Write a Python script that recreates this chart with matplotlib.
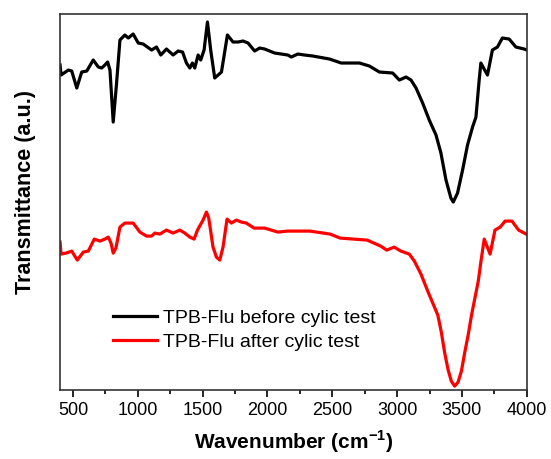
import matplotlib
matplotlib.use("Agg")
import matplotlib.pyplot as plt
from matplotlib.ticker import MultipleLocator

plt.rcParams['font.family'] = ['Liberation Sans', 'DejaVu Sans']
plt.rcParams['mathtext.fontset'] = 'custom'
plt.rcParams['mathtext.rm'] = 'Liberation Sans'
plt.rcParams['mathtext.bf'] = 'Liberation Sans:bold'

# wavenumber (cm-1) / transmittance (a.u.)
wn_before = [400, 408, 464, 490, 529, 567, 606, 656, 695, 721, 746, 767, 785, 810, 836,
             862, 900, 926, 964, 1003, 1041, 1106, 1144, 1177, 1221, 1272, 1311, 1345,
             1375, 1401, 1421, 1439, 1465, 1485, 1511, 1537, 1562, 1593, 1619, 1645,
             1691, 1734, 1773, 1811, 1850, 1901, 1940, 1978, 2055, 2157, 2184, 2234,
             2286, 2350, 2478, 2569, 2709, 2786, 2863, 2966, 3017, 3069, 3107, 3146,
             3197, 3248, 3300, 3338, 3377, 3415, 3433, 3466, 3505, 3543, 3582, 3608,
             3633, 3646, 3697, 3735, 3774, 3812, 3864, 3916, 3980, 4000]
t_before = [325, 315, 320, 319, 302, 318, 319, 330, 323, 322, 325, 328, 320, 268, 307,
            350, 355, 352, 356, 347, 346, 340, 343, 335, 341, 335, 339, 338,
            327, 322, 327, 322, 335, 330, 340, 368, 340, 312, 315, 318,
            355, 348, 348, 349, 347, 339, 342, 341, 337, 335, 333, 336,
            335, 334, 331, 327, 327, 324, 318, 317, 310, 313, 310, 302,
            287, 270, 255, 237, 210, 192, 188, 197, 220, 245, 263, 273,
            310, 327, 315, 340, 343, 352, 351, 343, 341, 340]

wn_after = [400, 408, 446, 490, 533, 579, 618, 664, 708, 746, 772, 793, 810, 831, 862,
            900, 964, 1016, 1067, 1106, 1131, 1170, 1221, 1272, 1324, 1362, 1401, 1434,
            1460, 1503, 1529, 1547, 1580, 1606, 1632, 1657, 1688, 1722, 1760, 1799,
            1837, 1896, 1978, 2080, 2157, 2286, 2328, 2483, 2561, 2769, 2873, 2920,
            2977, 3029, 3094, 3133, 3184, 3236, 3275, 3314, 3341, 3366, 3392, 3418,
            3444, 3470, 3496, 3522, 3548, 3574, 3600, 3626, 3647, 3672, 3717, 3755,
            3795, 3833, 3886, 3937, 3995]
t_after = [148, 136, 137, 139, 130, 138, 139, 151, 149, 151, 153, 147, 137, 142, 163,
           167, 167, 158, 154, 154, 157, 156, 160, 157, 160, 157, 153, 151,
           160, 170, 178, 172, 143, 133, 130, 143, 171, 167, 170, 168,
           167, 162, 162, 158, 159, 159, 159, 156, 152, 150, 144, 140,
           143, 139, 136, 129, 116, 99, 87, 75, 58, 38, 21, 9,
           4, 8, 19, 38, 55, 75, 92, 109, 129, 151, 136, 160,
           163, 169, 169, 160, 156]

fig = plt.figure(figsize=(5.51, 4.59), dpi=100)
ax = fig.add_axes([0.109, 0.150, 0.847, 0.8195])

ax.plot(wn_before, t_before, color='black', lw=2.3, label='TPB-Flu before cylic test')
ax.plot(wn_after, t_after, color='red', lw=2.3, label='TPB-Flu after cylic test')

ax.set_xlim(400, 4000)
ax.set_ylim(0, 376)
ax.xaxis.set_major_locator(MultipleLocator(500))
ax.xaxis.set_minor_locator(MultipleLocator(250))
ax.tick_params(axis='x', which='major', labelsize=13, length=5, width=1.2)
ax.tick_params(axis='x', which='minor', length=3, width=1.2)
ax.set_yticks([])
for s in ax.spines.values():
    s.set_linewidth(1.2)
    s.set_color('#333333')

ax.set_xlabel('Wavenumber (cm$^{\\mathbf{-1}}$)', fontsize=15, fontweight='bold', labelpad=7)
ax.set_ylabel('Transmittance (a.u.)', fontsize=15.5, fontweight='bold')
ax.yaxis.set_label_coords(-0.051, 0.527)

ax.legend(loc='lower left', bbox_to_anchor=(0.113, 0.105), frameon=False, fontsize=14,
          handlelength=2.27, handletextpad=0.3, labelspacing=0.3,
          borderpad=0, borderaxespad=0)

fig.savefig('out.png', dpi=100)
